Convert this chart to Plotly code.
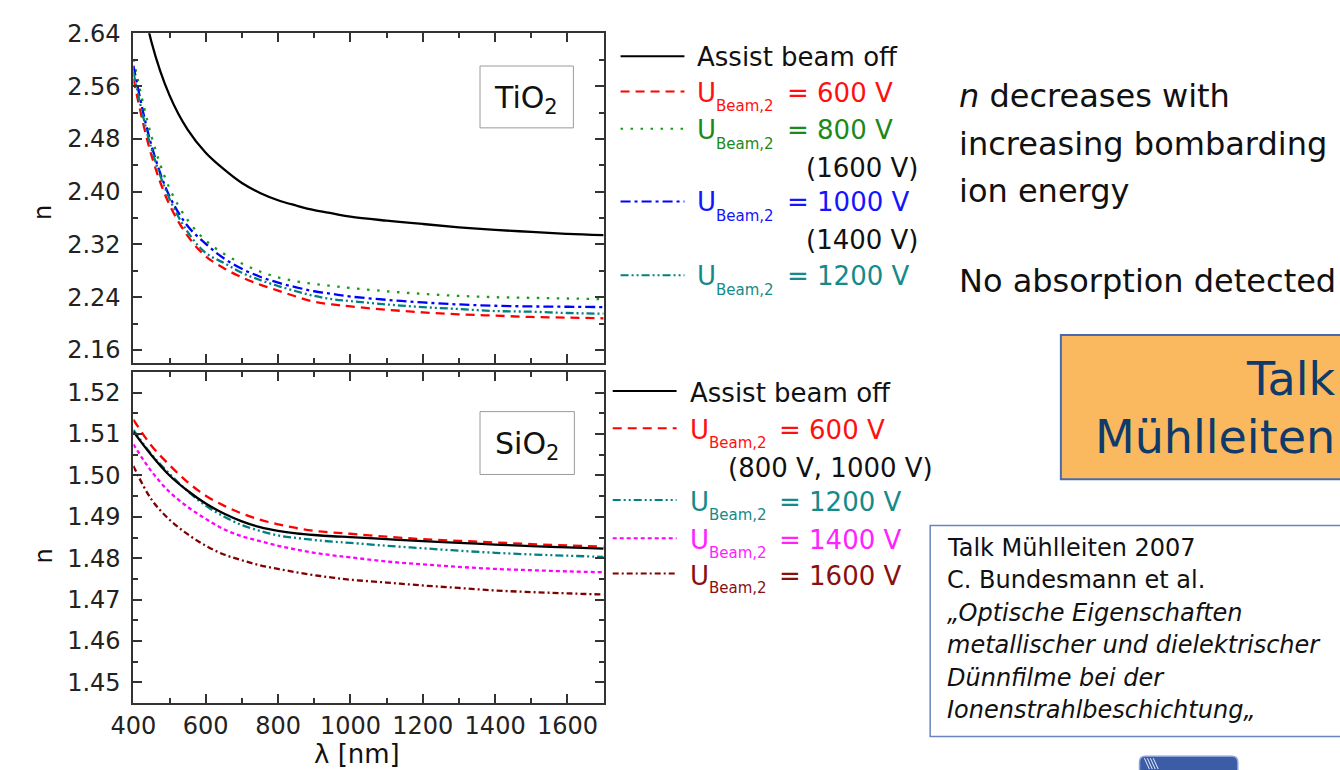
import plotly.graph_objects as go

W, H = 1340, 770
FONT = "DejaVu Sans"

# ---------------- data: refractive index n vs wavelength ----------------
wl = [400, 450, 500, 550, 600, 650, 700, 750, 800, 850, 900, 950,
      1000, 1100, 1200, 1300, 1400, 1500, 1600, 1700]

tio2_off = [2.765, 2.627, 2.546, 2.494, 2.459, 2.434, 2.413, 2.398, 2.387, 2.379, 2.372, 2.367,
            2.362, 2.356, 2.351, 2.346, 2.342, 2.339, 2.336, 2.334]
tio2_600 = [2.571, 2.455, 2.380, 2.333, 2.302, 2.284, 2.270, 2.259, 2.250, 2.241, 2.233, 2.229,
            2.226, 2.221, 2.217, 2.214, 2.212, 2.210, 2.209, 2.208]
tio2_800 = [2.601, 2.484, 2.405, 2.357, 2.326, 2.306, 2.291, 2.279, 2.270, 2.264, 2.260, 2.257,
            2.254, 2.249, 2.245, 2.242, 2.240, 2.239, 2.238, 2.237]
tio2_1000 = [2.591, 2.470, 2.393, 2.348, 2.321, 2.299, 2.283, 2.271, 2.262, 2.255, 2.249, 2.245,
             2.241, 2.236, 2.232, 2.229, 2.227, 2.226, 2.2255, 2.225]
tio2_1200 = [2.581, 2.465, 2.389, 2.339, 2.307, 2.292, 2.277, 2.266, 2.257, 2.249, 2.242, 2.237,
             2.234, 2.229, 2.225, 2.222, 2.219, 2.218, 2.216, 2.215]

sio2_off = [1.5106, 1.5049, 1.5000, 1.4963, 1.4932, 1.4908, 1.4889, 1.4875, 1.4866, 1.4860,
            1.4856, 1.4853, 1.4851, 1.4846, 1.4841, 1.4837, 1.4833, 1.4829, 1.4826, 1.4823]
sio2_600 = [1.5135, 1.5072, 1.5025, 1.4984, 1.4951, 1.4927, 1.4908, 1.4893, 1.4882, 1.4873,
            1.4866, 1.4862, 1.4859, 1.4852, 1.4846, 1.4842, 1.4838, 1.4834, 1.4831, 1.4828]
sio2_1200 = [1.5110, 1.5051, 1.5004, 1.4962, 1.4927, 1.4901, 1.4880, 1.4866, 1.4855, 1.4849,
             1.4844, 1.4840, 1.4837, 1.4830, 1.4824, 1.4818, 1.4813, 1.4809, 1.4806, 1.4803]
sio2_1400 = [1.5075, 1.5010, 1.4960, 1.4924, 1.4895, 1.4870, 1.4853, 1.4841, 1.4830, 1.4821,
             1.4813, 1.4807, 1.4802, 1.4792, 1.4785, 1.4779, 1.4774, 1.4771, 1.4768, 1.4766]
sio2_1600 = [1.5023, 1.4942, 1.4893, 1.4858, 1.4830, 1.4809, 1.4795, 1.4783, 1.4774, 1.4766,
             1.4759, 1.4753, 1.4748, 1.4741, 1.4734, 1.4728, 1.4722, 1.4718, 1.4715, 1.4712]

x_ticks = [400, 600, 800, 1000, 1200, 1400, 1600]
tio2_yticks = [2.16, 2.24, 2.32, 2.40, 2.48, 2.56, 2.64]
sio2_yticks = [1.45, 1.46, 1.47, 1.48, 1.49, 1.50, 1.51, 1.52]

# ---------------- line / text styles per beam voltage ----------------
STYLE = {
    "off":  dict(color="#000000", dash="solid", text="#111111"),
    "600":  dict(color="#ff0000", dash="9px,6px", text="#ff1010"),
    "800":  dict(color="#1a9a1a", dash="2.5px,7.5px", text="#1a8a1a"),
    "1000": dict(color="#0000ff", dash="10px,4px,3px,4px", text="#1414ff"),
    "1200": dict(color="#008080", dash="8px,3px,2px,3px,2px,3px", text="#158a8a"),
    "1400": dict(color="#ff00ff", dash="4px,3px", text="#ff22ff"),
    "1600": dict(color="#800000", dash="6px,3px,2px,3px", text="#8a1010"),
}


def X(px):
    return px / W


def Y(py):
    return 1 - py / H


fig = go.Figure()

tio2_series = [("off", tio2_off), ("600", tio2_600), ("800", tio2_800),
               ("1000", tio2_1000), ("1200", tio2_1200)]
for key, vals in tio2_series:
    st = STYLE[key]
    fig.add_trace(go.Scatter(x=wl, y=vals, mode="lines", xaxis="x", yaxis="y",
                             line=dict(color=st["color"], dash=st["dash"], width=2.3,
                                       shape="spline", smoothing=1.0),
                             showlegend=False, hoverinfo="skip"))

sio2_series = [("1600", sio2_1600), ("1400", sio2_1400), ("1200", sio2_1200),
               ("600", sio2_600), ("off", sio2_off)]
for key, vals in sio2_series:
    st = STYLE[key]
    fig.add_trace(go.Scatter(x=wl, y=vals, mode="lines", xaxis="x2", yaxis="y2",
                             line=dict(color=st["color"], dash=st["dash"], width=2.3,
                                       shape="spline", smoothing=1.0),
                             showlegend=False, hoverinfo="skip"))

x_dom = [X(112.3), X(590.8)]
top_dom = [Y(356.7), Y(20.6)]
bot_dom = [Y(702.3), Y(365.7)]

tickfont = dict(family=FONT, size=24, color="#222222")


def minor(dtick, tick0):
    return dict(ticks="inside", ticklen=5, tickwidth=1.5, tickcolor="#333333",
                dtick=dtick, tick0=tick0, showgrid=False)


def axis(**kw):
    base = dict(showline=True, linecolor="#333333", linewidth=2, mirror="allticks",
                ticks="inside", ticklen=9, tickwidth=2, tickcolor="#333333",
                showgrid=False, zeroline=False, tickfont=tickfont, fixedrange=True)
    base.update(kw)
    return base


fig.update_layout(
    width=W, height=H, margin=dict(l=0, r=0, t=0, b=0),
    paper_bgcolor="white", plot_bgcolor="white",
    font=dict(family=FONT),
    xaxis=axis(domain=x_dom, range=[400, 1700], anchor="y", tickvals=x_ticks,
               showticklabels=False, minor=minor(100, 400)),
    yaxis=axis(domain=top_dom, range=[2.1399, 2.6402], anchor="x", tickvals=tio2_yticks,
               tickformat=".2f", ticklabelstandoff=6, minor=minor(0.04, 2.16)),
    xaxis2=axis(domain=x_dom, range=[400, 1700], anchor="y2", tickvals=x_ticks,
                ticklabelstandoff=1, minor=minor(100, 400)),
    yaxis2=axis(domain=bot_dom, range=[1.4451, 1.5250], anchor="x2", tickvals=sio2_yticks,
                tickformat=".2f", ticklabelstandoff=6, minor=minor(0.005, 1.45)),
)

shapes = []
annotations = []


def text(px, py, s, size, color="#111111", xanchor="left", angle=0):
    annotations.append(dict(xref="paper", yref="paper", x=X(px), y=Y(py), text=s,
                            showarrow=False, xanchor=xanchor, yanchor="middle",
                            textangle=angle,
                            font=dict(family=FONT, size=size, color=color)))


def rect(x0, y0, x1, y1, line_color, fill, width=1):
    shapes.append(dict(type="rect", xref="paper", yref="paper",
                       x0=X(x0), x1=X(x1), y0=Y(y1), y1=Y(y0),
                       line=dict(color=line_color, width=width), fillcolor=fill,
                       layer="above"))


def sample(x0, x1, py, key):
    st = STYLE[key]
    shapes.append(dict(type="line", xref="paper", yref="paper",
                       x0=X(x0), x1=X(x1), y0=Y(py), y1=Y(py),
                       line=dict(color=st["color"], dash=st["dash"], width=2)))


# axis titles
text(21, 203, "n", 24, angle=-90, xanchor="center")
text(21, 553, "n", 24, angle=-90, xanchor="center")
text(340, 755, "λ [nm]", 26, xanchor="center")

# material boxes
rect(465, 54, 560, 117, "#9a9a9a", "white")
text(512, 88, "TiO<sub>2</sub>", 30, xanchor="center")
rect(465, 406, 561, 470, "#9a9a9a", "white")
text(513, 440, "SiO<sub>2</sub>", 30, xanchor="center")

# legend for the TiO2 panel
tio2_rows = [("off", 45, "Assist beam off"), ("600", 81, "= 600 V"),
             ("800", 119, "= 800 V"), ("1000", 193, "= 1000 V"), ("1200", 268, "= 1200 V")]
tio2_notes = [(158, "(1600 V)"), (231, "(1400 V)")]
for key, py, label in tio2_rows:
    sample(608, 673, py - 1, key)
    col = STYLE[key]["text"]
    if key == "off":
        text(684, py, label, 26, col)
    else:
        text(684, py, "U", 26, col)
        text(703, py + 14, "Beam,2", 15, col)
        text(775, py, label, 26, col)
for py, note in tio2_notes:
    text(914, py, note, 26, "#111111", xanchor="right")

# legend for the SiO2 panel
sio2_rows = [("off", 387, "Assist beam off"), ("600", 425, "= 600 V"),
             ("1200", 498, "= 1200 V"), ("1400", 537, "= 1400 V"), ("1600", 573, "= 1600 V")]
sio2_notes = [(463, "(800 V, 1000 V)")]
for key, py, label in sio2_rows:
    sample(600, 665, py - 2, key)
    col = STYLE[key]["text"]
    if key == "off":
        text(677, py, label, 26, col)
    else:
        text(677, py, "U", 26, col)
        text(696, py + 13, "Beam,2", 15, col)
        text(767, py, label, 26, col)
for py, note in sio2_notes:
    text(928, py, note, 26, "#111111", xanchor="right")

# statements
text(950, 85, "<i>n</i> decreases with", 32)
text(950, 133, "increasing bombarding", 32)
text(950, 181, "ion energy", 32)
text(950, 273, "No absorption detected", 32)

# talk box
rect(1056, 328, 1350, 475, "#4a6aae", "#fbb95f", width=2)
text(1337, 373, "Talk", 46, "#0f3a6a", xanchor="right")
text(1337, 432, "Mühlleiten", 46, "#0f3a6a", xanchor="right")

# reference box
rect(923, 522, 1350, 737, "#6a84c0", "white", width=1.5)
ref_lines = ["Talk Mühlleiten 2007", "C. Bundesmann et al.",
             "<i>„Optische Eigenschaften</i>", "<i>metallischer und dielektrischer</i>",
             "<i>Dünnfilme bei der</i>", "<i>Ionenstrahlbeschichtung„</i>"]
for i, line in enumerate(ref_lines):
    text(938, 545 + 33 * i, line, 24)

# institute logo fragment at the bottom edge
x0, y0, x1, y1, r = 1136, 757, 1236, 790, 6
path = (f"M {X(x0 + r)},{Y(y0)} L {X(x1 - r)},{Y(y0)} Q {X(x1)},{Y(y0)} {X(x1)},{Y(y0 + r)} "
        f"L {X(x1)},{Y(y1)} L {X(x0)},{Y(y1)} L {X(x0)},{Y(y0 + r)} "
        f"Q {X(x0)},{Y(y0)} {X(x0 + r)},{Y(y0)} Z")
shapes.append(dict(type="path", xref="paper", yref="paper", path=path,
                   fillcolor="#3d5ca6", line=dict(color="#8aa2d6", width=1.5)))
for k in range(4):
    sx = 1141 + 3 * k
    shapes.append(dict(type="line", xref="paper", yref="paper",
                       x0=X(sx), y0=Y(759), x1=X(sx + 5), y1=Y(770),
                       line=dict(color="#e8eefa", width=1)))

fig.update_layout(shapes=shapes, annotations=annotations)
fig.write_html("out.html")
